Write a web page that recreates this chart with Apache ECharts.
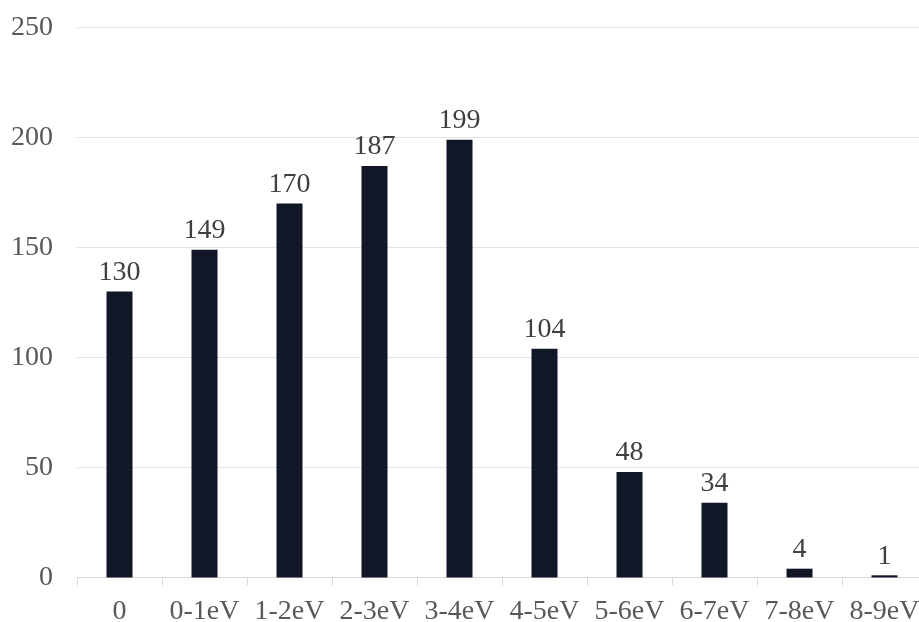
<!DOCTYPE html>
<html>
<head>
<meta charset="utf-8">
<script src="https://cdn.jsdelivr.net/npm/echarts@6/dist/echarts.min.js"></script>
<style>
  html, body { margin: 0; padding: 0; background: #fff; }
  #chart { width: 919px; height: 622px; }
</style>
</head>
<body>
<div id="chart"></div>
<script>
// Energy bins and counts per bin
const categories = ['0', '0-1eV', '1-2eV', '2-3eV', '3-4eV', '4-5eV', '5-6eV', '6-7eV', '7-8eV', '8-9eV'];
const counts = [130, 149, 170, 187, 199, 104, 48, 34, 4, 1];
const yTicks = { min: 0, max: 250, interval: 50 };

const serif = '"Times New Roman", "Liberation Serif", "DejaVu Serif", serif';

const chart = echarts.init(document.getElementById('chart'), null, { renderer: 'canvas' });
chart.setOption({
  animation: false,
  backgroundColor: '#ffffff',
  grid: { left: 77, top: 27.5, width: 850, height: 550, containLabel: false, outerBoundsMode: 'none' },
  xAxis: {
    type: 'category',
    data: categories,
    axisLine: { show: true, lineStyle: { color: '#d9d9d9', width: 1 } },
    axisTick: { show: true, length: 8, alignWithLabel: false, lineStyle: { color: '#d9d9d9' } },
    axisLabel: { color: '#595959', fontFamily: serif, fontSize: 28, margin: 20, interval: 0 }
  },
  yAxis: {
    type: 'value',
    min: yTicks.min,
    max: yTicks.max,
    interval: yTicks.interval,
    axisLine: { show: false },
    axisTick: { show: false },
    splitLine: { show: true, lineStyle: { color: '#e3e3e3', width: 1 } },
    axisLabel: { color: '#595959', fontFamily: serif, fontSize: 28, margin: 24 }
  },
  series: [{
    type: 'bar',
    data: counts,
    barWidth: 26,
    itemStyle: { color: '#111726' },
    label: {
      show: true,
      position: 'top',
      distance: 5,
      color: '#404040',
      fontFamily: serif,
      fontSize: 28
    }
  }]
});
</script>
</body>
</html>
